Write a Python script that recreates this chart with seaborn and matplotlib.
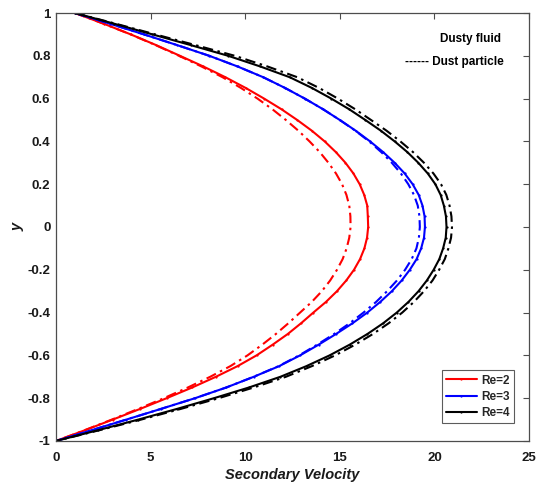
import matplotlib
matplotlib.use("Agg")
import matplotlib.pyplot as plt
import seaborn as sns
import pandas as pd

# Wall-normal coordinate, from the upper wall to the lower wall
y = [1.0, 0.95, 0.9, 0.85, 0.8, 0.75, 0.7, 0.65, 0.6, 0.55, 0.5,
     0.45, 0.4, 0.35, 0.3, 0.25, 0.2, 0.15, 0.1, 0.05, 0.0,
     -0.05, -0.1, -0.15, -0.2, -0.25, -0.3, -0.35, -0.4, -0.45, -0.5,
     -0.55, -0.6, -0.65, -0.7, -0.75, -0.8, -0.85, -0.9, -0.95, -1.0]

# Secondary velocity of the dusty fluid
fluid_re2 = [1.0, 2.52, 3.95, 5.29, 6.55, 7.79, 8.95, 10.02, 11.0, 11.92, 12.75,
             13.52, 14.2, 14.79, 15.3, 15.72, 16.05, 16.29, 16.45, 16.48, 16.5,
             16.44, 16.3, 16.07, 15.75, 15.34, 14.85, 14.27, 13.6, 12.95, 12.25,
             11.45, 10.6, 9.6, 8.45, 7.2, 5.85, 4.45, 3.0, 1.52, 0.0]
fluid_re3 = [1.0, 2.85, 4.65, 6.4, 8.1, 9.6, 10.95, 12.1, 13.15, 14.12, 15.0,
             15.84, 16.6, 17.29, 17.9, 18.43, 18.85, 19.17, 19.37, 19.48, 19.5,
             19.45, 19.3, 19.06, 18.7, 18.27, 17.75, 17.14, 16.45, 15.67, 14.8,
             13.88, 12.9, 11.8, 10.45, 9.0, 7.35, 5.55, 3.72, 1.87, 0.0]
fluid_re4 = [1.0, 3.07, 5.1, 7.12, 9.1, 10.8, 12.35, 13.52, 14.55, 15.5, 16.35,
             17.17, 17.9, 18.57, 19.15, 19.65, 20.05, 20.33, 20.5, 20.61, 20.64,
             20.6, 20.46, 20.26, 19.96, 19.6, 19.16, 18.63, 18.01, 17.29, 16.46,
             15.52, 14.46, 13.24, 11.86, 10.2, 8.35, 6.4, 4.35, 2.2, 0.0]

# Secondary velocity of the dust particles
dust_re2 = [1.0, 2.51, 3.95, 5.26, 6.5, 7.69, 8.8, 9.77, 10.65, 11.44, 12.15,
            12.81, 13.4, 13.94, 14.4, 14.8, 15.12, 15.35, 15.5, 15.56, 15.57,
            15.5, 15.36, 15.15, 14.85, 14.49, 14.05, 13.52, 12.9, 12.28, 11.62,
            10.9, 10.12, 9.22, 8.15, 6.97, 5.7, 4.35, 2.95, 1.5, 0.0]
dust_re3 = [1.0, 2.85, 4.65, 6.4, 8.1, 9.6, 10.95, 12.1, 13.15, 14.12, 15.0,
            15.82, 16.55, 17.19, 17.75, 18.23, 18.62, 18.92, 19.12, 19.21, 19.23,
            19.18, 19.05, 18.8, 18.45, 18.02, 17.5, 16.92, 16.25, 15.52, 14.7,
            13.8, 12.85, 11.77, 10.45, 9.0, 7.35, 5.55, 3.72, 1.87, 0.0]
dust_re4 = [1.0, 3.15, 5.25, 7.37, 9.45, 11.18, 12.75, 13.9, 14.9, 15.82, 16.65,
            17.47, 18.2, 18.87, 19.45, 19.95, 20.35, 20.63, 20.8, 20.9, 20.93,
            20.88, 20.74, 20.55, 20.25, 19.9, 19.45, 18.92, 18.3, 17.58, 16.75,
            15.81, 14.75, 13.53, 12.15, 10.45, 8.6, 6.6, 4.5, 2.28, 0.0]

labels = ["Re=2", "Re=3", "Re=4"]
colors = ["#ff0000", "#0000ff", "#000000"]

sns.set_theme(style="white")
plt.rcParams["font.family"] = ["Liberation Sans", "DejaVu Sans"]
plt.rcParams["font.weight"] = "bold"

fig = plt.figure(figsize=(5.37, 4.87), dpi=100)
ax = fig.add_axes([0.1043, 0.0945, 0.8808, 0.8788])

fluid = [fluid_re2, fluid_re3, fluid_re4]
dust = [dust_re2, dust_re3, dust_re4]

for lab, col, uf, up in zip(labels, colors, fluid, dust):
    df_f = pd.DataFrame({"u": uf, "y": y})
    df_p = pd.DataFrame({"u": up, "y": y})
    sns.lineplot(data=df_f, x="u", y="y", sort=False, estimator=None, ax=ax,
                 color=col, linewidth=1.5, marker=".", markersize=3.2,
                 markeredgewidth=0, label=lab)
    sns.lineplot(data=df_p, x="u", y="y", sort=False, estimator=None, ax=ax,
                 color=col, linewidth=1.5, linestyle=(0, (5, 2.2, 1.2, 2.2)),
                 label="_nolegend_")

ax.set_xlim(0, 25)
ax.set_ylim(-1, 1)
ax.set_xticks([0, 5, 10, 15, 20, 25])
ax.set_xticklabels(["0", "5", "10", "15", "20", "25"])
yt = [-1, -0.8, -0.6, -0.4, -0.2, 0, 0.2, 0.4, 0.6, 0.8, 1]
ax.set_yticks(yt)
ax.set_yticklabels(["-1", "-0.8", "-0.6", "-0.4", "-0.2", "0",
                    "0.2", "0.4", "0.6", "0.8", "1"])

for s in ax.spines.values():
    s.set_visible(True)
    s.set_color("#4d4d4d")
    s.set_linewidth(0.9)
ax.tick_params(direction="in", length=4, width=0.8, color="#4d4d4d",
               top=True, right=True, labelsize=9.5, labelcolor="#1a1a1a", pad=4)
ax.tick_params(axis="x", pad=8)
for t in ax.get_xticklabels() + ax.get_yticklabels():
    t.set_fontweight("bold")

ax.set_xlabel("Secondary Velocity", fontsize=10.5, fontweight="bold",
              fontstyle="italic", color="#1a1a1a", labelpad=3)
ax.set_ylabel("y", fontsize=10.5, fontweight="bold", fontstyle="italic",
              color="#1a1a1a", labelpad=2)

ax.text(0.941, 0.939, "Dusty fluid", transform=ax.transAxes, ha="right",
        va="center", fontsize=8.5, fontweight="bold", color="#000000")
ax.text(0.947, 0.886, "------ Dust particle", transform=ax.transAxes,
        ha="right", va="center", fontsize=8.5, fontweight="bold",
        color="#000000")

leg = ax.legend(loc="lower right", bbox_to_anchor=(0.968, 0.042),
                fontsize=8.5, frameon=True, fancybox=False, handlelength=2.6,
                handletextpad=0.4, borderpad=0.35, labelspacing=0.35,
                borderaxespad=0)
leg.get_frame().set_edgecolor("#333333")
leg.get_frame().set_linewidth(0.8)
for t in leg.get_texts():
    t.set_fontweight("bold")

fig.savefig("out.png", dpi=100)
